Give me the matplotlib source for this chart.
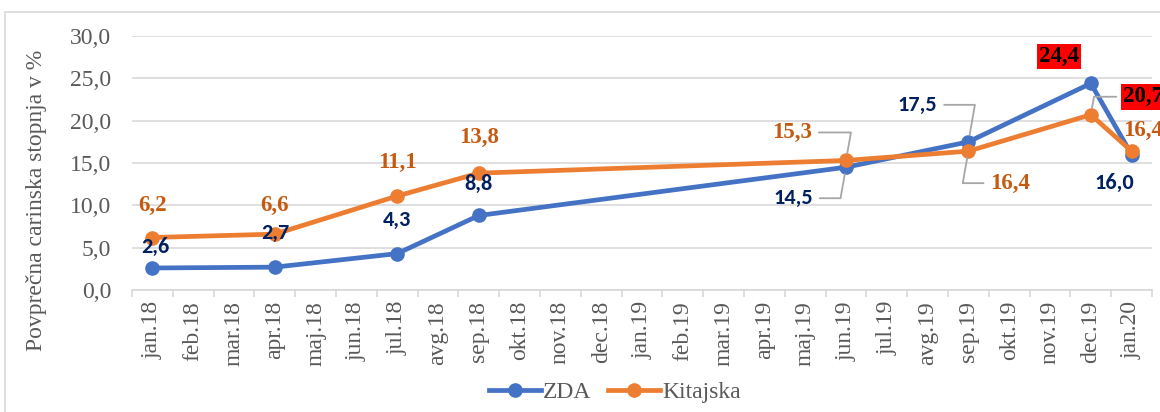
import matplotlib.pyplot as plt
from matplotlib.patches import Rectangle
from matplotlib.lines import Line2D

plt.rcParams['font.family'] = 'Liberation Serif'

# mesečne kategorije na osi x
mesci = ['jan', 'feb', 'mar', 'apr', 'maj', 'jun', 'jul', 'avg', 'sep', 'okt', 'nov', 'dec']
months = [m + '.18' for m in mesci] + [m + '.19' for m in mesci] + ['jan.20']

obs = ['jan.18', 'apr.18', 'jul.18', 'sep.18', 'jun.19', 'sep.19', 'dec.19', 'jan.20']
zda = [2.6, 2.7, 4.3, 8.8, 14.5, 17.5, 24.4, 16.0]
kitajska = [6.2, 6.6, 11.1, 13.8, 15.3, 16.4, 20.7, 16.4]

# odmiki oznak (px) in ali imajo oznake vodilno črto / rdeče ozadje
off_zda = [(3, 21), (1, 34), (0, 34), (0, 32), (-53, -31), (-51, 37), (-32, 27), (-17, -28)]
off_kit = [(0, 32), (0, 29), (0, 34), (0, 36), (-54, 28), (42, -32), (52, 18), (11, 21)]
lead_zda = [False, False, False, False, True, True, False, False]
lead_kit = [False, False, False, False, True, True, True, False]
red_zda = [False] * 6 + [True, False]
red_kit = [False] * 6 + [True, False]

c_zda, c_kit = '#4472C4', '#ED7D31'
t_zda, t_kit = '#002060', '#C55A11'
siva = '#595959'

fig = plt.figure(figsize=(11.6, 4.12), dpi=100)
fig.patches.append(Rectangle((5 / 1160, -0.1), 1.2, 1 - 12 / 412 + 0.1, transform=fig.transFigure,
                             fill=False, edgecolor='#D9D9D9', lw=1.2))
ax = fig.add_axes([132 / 1160, 1 - 290 / 412, 1020 / 1160, 254 / 412])

xi = [months.index(m) for m in obs]
ax.plot(xi, zda, color=c_zda, lw=3.4, marker='o', ms=9.5, solid_joinstyle='round', zorder=3)
ax.plot(xi, kitajska, color=c_kit, lw=3.4, marker='o', ms=9.5, solid_joinstyle='round', zorder=4)


def labels(vals, offs, leads, reds, color, family, size):
    for x, v, (dx, dy), ld, rd in zip(xi, vals, offs, leads, reds):
        kw = dict(textcoords='offset pixels', ha='center', va='center', fontsize=size,
                  fontweight='bold', fontfamily=family, color='black' if rd else color,
                  annotation_clip=False, zorder=6)
        if rd:
            kw['fontfamily'] = 'Liberation Serif'
            kw['fontsize'] = 16.5
            kw['bbox'] = dict(boxstyle='square,pad=0.1', fc='#FF0000', ec='none')
        if ld:
            rel = (1, 0.5) if dx < 0 else (0, 0.5)
            kw['arrowprops'] = dict(arrowstyle='-', color='#A6A6A6', lw=1.3, shrinkA=3, shrinkB=5,
                                    relpos=rel, connectionstyle='angle,angleA=0,angleB=80')
        ax.annotate(f'{v:.1f}'.replace('.', ','), xy=(x, v), xytext=(dx, dy), **kw)


labels(zda, off_zda, lead_zda, red_zda, t_zda, 'Carlito', 16)
labels(kitajska, off_kit, lead_kit, red_kit, t_kit, 'Liberation Serif', 16.5)

ax.set_xlim(-0.5, len(months) - 0.5)
ax.set_ylim(0, 30)
ax.set_yticks(range(0, 31, 5))
ax.set_yticklabels([f'{v:.1f}'.replace('.', ',') for v in range(0, 31, 5)], fontsize=17, color=siva)
ax.set_xticks(range(len(months)))
ax.set_xticklabels(months, rotation=90, fontsize=17, color=siva)
ax.set_xticks([i - 0.5 for i in range(len(months) + 1)], minor=True)
ax.tick_params(axis='x', which='major', length=0, pad=8)
ax.tick_params(axis='x', which='minor', length=5, color='#D9D9D9', width=1.2)
ax.tick_params(axis='y', length=0, pad=15)
ax.grid(axis='y', color='#D9D9D9', lw=1.2)
ax.set_axisbelow(True)
for s in ['top', 'right', 'left']:
    ax.spines[s].set_visible(False)
ax.spines['bottom'].set_color('#D9D9D9')
ax.spines['bottom'].set_linewidth(1.2)
ax.set_ylabel('Povprečna carinska stopnja v %', fontsize=17, color=siva)
ax.yaxis.set_label_coords((47 - 132) / 1020, (290 - 200) / 254)

h = [Line2D([], [], color=c, lw=3.4, marker='o', ms=9.5) for c in (c_zda, c_kit)]
fig.legend(h, ['ZDA', 'Kitajska'], loc='center', bbox_to_anchor=(615 / 1160, 1 - 392 / 412), ncol=2,
           frameon=False, prop={'size': 17}, handlelength=2.2, columnspacing=0.7,
           handletextpad=0.1, labelcolor=siva)

fig.savefig('out.png', dpi=100)
